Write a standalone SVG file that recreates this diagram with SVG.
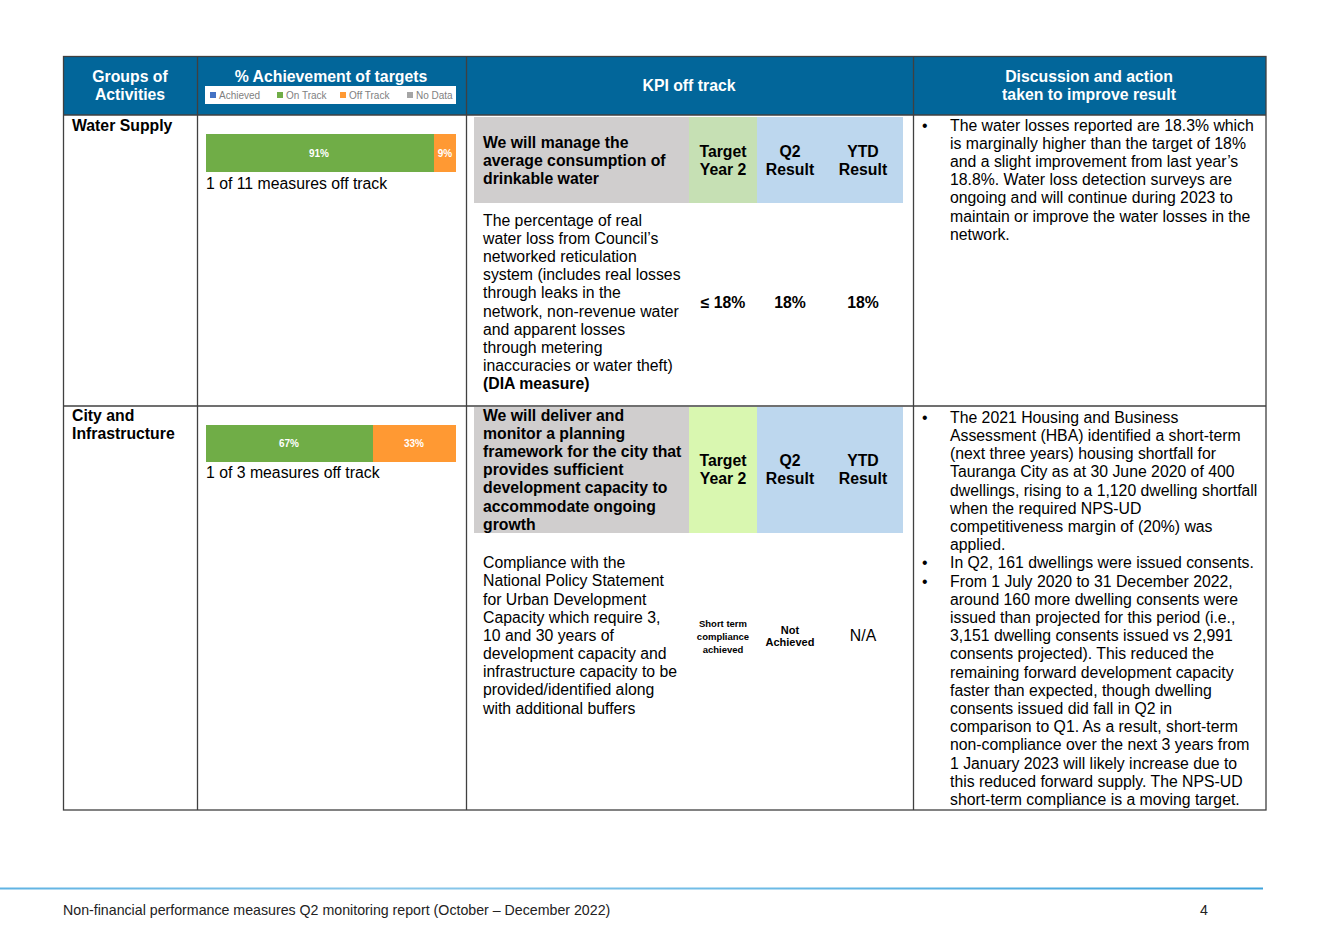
<svg xmlns="http://www.w3.org/2000/svg" width="1328" height="939" viewBox="0 0 1328 939">
<defs>
<style>
text{font-family:"Liberation Sans",Arial,sans-serif;fill:#000;}
.h{font-size:15.8px;font-weight:bold;fill:#fff;text-anchor:middle;}
.b{font-size:15.8px;font-weight:bold;}
.r{font-size:15.8px;}
.c{text-anchor:middle;}
.lg{font-size:10px;fill:#7f7f7f;}
.pct{font-size:10px;font-weight:bold;fill:#fff;text-anchor:middle;}
.grid{stroke:#404040;stroke-width:1.3;fill:none;}
.ft{font-size:14.2px;fill:#222;}
</style>
<linearGradient id="fl" x1="0" x2="1" y1="0" y2="0">
<stop offset="0" stop-color="#5fb3e3"/>
<stop offset="0.3" stop-color="#8cc8ea"/>
<stop offset="0.6" stop-color="#6dbbe6"/>
<stop offset="1" stop-color="#3fa4dc"/>
</linearGradient>
</defs>
<rect width="1328" height="939" fill="#fff"/>

<g id="header">
<rect x="63" y="57" width="1203" height="58" fill="#02669a"/>
<text class="h" x="130" y="82">Groups of</text>
<text class="h" x="130" y="100">Activities</text>
<text class="h" x="331" y="82">% Achievement of targets</text>
<rect x="205" y="86" width="251" height="18" fill="#fff"/>
<rect x="210" y="92" width="6" height="6" fill="#4472c4"/>
<text class="lg" x="219" y="99">Achieved</text>
<rect x="277" y="92" width="6" height="6" fill="#70ad47"/>
<text class="lg" x="286" y="99">On Track</text>
<rect x="340" y="92" width="6" height="6" fill="#ff9933"/>
<text class="lg" x="349" y="99">Off Track</text>
<rect x="407" y="92" width="6" height="6" fill="#a5a5a5"/>
<text class="lg" x="416" y="99">No Data</text>
<text class="h" x="689" y="91">KPI off track</text>
<text class="h" x="1089" y="82">Discussion and action</text>
<text class="h" x="1089" y="100">taken to improve result</text>
</g>

<g id="water-supply">
<text class="b" x="72" y="131">Water Supply</text>
<rect x="206" y="134" width="228" height="38" fill="#70ad47"/>
<rect x="434" y="134" width="22" height="38" fill="#ff9933"/>
<text class="pct" x="319" y="157">91%</text>
<text class="pct" x="445" y="157">9%</text>
<text class="r" x="206" y="189">1 of 11 measures off track</text>
<rect x="474" y="117" width="215" height="86" fill="#d0cece"/>
<rect x="689" y="117" width="68" height="86" fill="#c6e0b4"/>
<rect x="757" y="117" width="146" height="86" fill="#bdd7ee"/>
<text class="b" x="483" y="148">We will manage the</text>
<text class="b" x="483" y="166">average consumption of</text>
<text class="b" x="483" y="184">drinkable water</text>
<text class="b c" x="723" y="157">Target</text>
<text class="b c" x="723" y="175">Year 2</text>
<text class="b c" x="790" y="157">Q2</text>
<text class="b c" x="790" y="175">Result</text>
<text class="b c" x="863" y="157">YTD</text>
<text class="b c" x="863" y="175">Result</text>
<text class="r" x="483" y="226">The percentage of real</text>
<text class="r" x="483" y="244">water loss from Council’s</text>
<text class="r" x="483" y="262">networked reticulation</text>
<text class="r" x="483" y="280">system (includes real losses</text>
<text class="r" x="483" y="298">through leaks in the</text>
<text class="r" x="483" y="317">network, non-revenue water</text>
<text class="r" x="483" y="335">and apparent losses</text>
<text class="r" x="483" y="353">through metering</text>
<text class="r" x="483" y="371">inaccuracies or water theft)</text>
<text class="b" x="483" y="389">(DIA measure)</text>
<text class="b c" x="723" y="308">≤ 18%</text>
<text class="b c" x="790" y="308">18%</text>
<text class="b c" x="863" y="308">18%</text>
<text class="r" x="922" y="131">•</text>
<text class="r" x="950" y="131">The water losses reported are 18.3% which</text>
<text class="r" x="950" y="149">is marginally higher than the target of 18%</text>
<text class="r" x="950" y="167">and a slight improvement from last year’s</text>
<text class="r" x="950" y="185">18.8%. Water loss detection surveys are</text>
<text class="r" x="950" y="203">ongoing and will continue during 2023 to</text>
<text class="r" x="950" y="222">maintain or improve the water losses in the</text>
<text class="r" x="950" y="240">network.</text>
</g>

<g id="city-infrastructure">
<text class="b" x="72" y="421">City and</text>
<text class="b" x="72" y="439">Infrastructure</text>
<rect x="206" y="425" width="167" height="37" fill="#70ad47"/>
<rect x="373" y="425" width="83" height="37" fill="#ff9933"/>
<text class="pct" x="289" y="447">67%</text>
<text class="pct" x="414" y="447">33%</text>
<text class="r" x="206" y="478">1 of 3 measures off track</text>
<rect x="474" y="407" width="215" height="126" fill="#d0cece"/>
<rect x="689" y="407" width="68" height="126" fill="#d9f7b0"/>
<rect x="757" y="407" width="146" height="126" fill="#bdd7ee"/>
<text class="b" x="483" y="421">We will deliver and</text>
<text class="b" x="483" y="439">monitor a planning</text>
<text class="b" x="483" y="457">framework for the city that</text>
<text class="b" x="483" y="475">provides sufficient</text>
<text class="b" x="483" y="493">development capacity to</text>
<text class="b" x="483" y="512">accommodate ongoing</text>
<text class="b" x="483" y="530">growth</text>
<text class="b c" x="723" y="466">Target</text>
<text class="b c" x="723" y="484">Year 2</text>
<text class="b c" x="790" y="466">Q2</text>
<text class="b c" x="790" y="484">Result</text>
<text class="b c" x="863" y="466">YTD</text>
<text class="b c" x="863" y="484">Result</text>
<text class="r" x="483" y="568">Compliance with the</text>
<text class="r" x="483" y="586">National Policy Statement</text>
<text class="r" x="483" y="605">for Urban Development</text>
<text class="r" x="483" y="623">Capacity which require 3,</text>
<text class="r" x="483" y="641">10 and 30 years of</text>
<text class="r" x="483" y="659">development capacity and</text>
<text class="r" x="483" y="677">infrastructure capacity to be</text>
<text class="r" x="483" y="695">provided/identified along</text>
<text class="r" x="483" y="714">with additional buffers</text>
<text class="c" x="723" y="627" style="font-size:9.5px;font-weight:bold">Short term</text>
<text class="c" x="723" y="640" style="font-size:9.5px;font-weight:bold">compliance</text>
<text class="c" x="723" y="653" style="font-size:9.5px;font-weight:bold">achieved</text>
<text class="c" x="790" y="634" style="font-size:11px;font-weight:bold">Not</text>
<text class="c" x="790" y="646" style="font-size:11px;font-weight:bold">Achieved</text>
<text class="r c" x="863" y="641">N/A</text>
<text class="r" x="922" y="423">•</text>
<text class="r" x="950" y="423">The 2021 Housing and Business</text>
<text class="r" x="950" y="441">Assessment (HBA) identified a short-term</text>
<text class="r" x="950" y="459">(next three years) housing shortfall for</text>
<text class="r" x="950" y="477">Tauranga City as at 30 June 2020 of 400</text>
<text class="r" x="950" y="496">dwellings, rising to a 1,120 dwelling shortfall</text>
<text class="r" x="950" y="514">when the required NPS-UD</text>
<text class="r" x="950" y="532">competitiveness margin of (20%) was</text>
<text class="r" x="950" y="550">applied.</text>
<text class="r" x="922" y="568">•</text>
<text class="r" x="950" y="568">In Q2, 161 dwellings were issued consents.</text>
<text class="r" x="922" y="587">•</text>
<text class="r" x="950" y="587">From 1 July 2020 to 31 December 2022,</text>
<text class="r" x="950" y="605">around 160 more dwelling consents were</text>
<text class="r" x="950" y="623">issued than projected for this period (i.e.,</text>
<text class="r" x="950" y="641">3,151 dwelling consents issued vs 2,991</text>
<text class="r" x="950" y="659">consents projected). This reduced the</text>
<text class="r" x="950" y="678">remaining forward development capacity</text>
<text class="r" x="950" y="696">faster than expected, though dwelling</text>
<text class="r" x="950" y="714">consents issued did fall in Q2 in</text>
<text class="r" x="950" y="732">comparison to Q1. As a result, short-term</text>
<text class="r" x="950" y="750">non-compliance over the next 3 years from</text>
<text class="r" x="950" y="769">1 January 2023 will likely increase due to</text>
<text class="r" x="950" y="787">this reduced forward supply.  The NPS-UD</text>
<text class="r" x="950" y="805">short-term compliance is a moving target.</text>
</g>

<g id="connectors">
<rect class="grid" x="63.5" y="56.5" width="1202.5" height="753.5"/>
<line class="grid" x1="63" y1="115" x2="1266" y2="115"/>
<line class="grid" x1="63" y1="406" x2="1266" y2="406"/>
<line class="grid" x1="197.5" y1="56" x2="197.5" y2="810"/>
<line class="grid" x1="466.5" y1="56" x2="466.5" y2="810"/>
<line class="grid" x1="913.5" y1="56" x2="913.5" y2="810"/>
</g>

<g id="footer">
<rect x="0" y="887.5" width="1263" height="2" fill="url(#fl)"/>
<text class="ft" x="63" y="915">Non-financial performance measures Q2 monitoring report (October – December 2022)</text>
<text class="ft" x="1200" y="915">4</text>
</g>
</svg>
